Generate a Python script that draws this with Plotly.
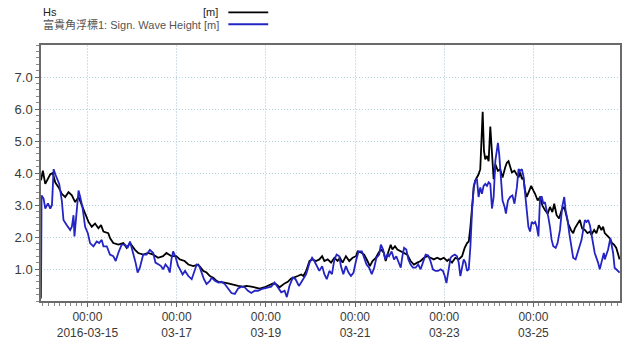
import pandas as pd
import plotly.graph_objects as go

# Time axis reference: hours are counted from this instant
T0 = pd.Timestamp("2016-03-14 00:00")
X_START_H = -1.0
X_END_H = 310.6

# Hs [m] (model)
hs_hours = [
    -1.0, 0.0, 1.3, 4.0, 5.3, 6.7, 8.5, 10.2, 12.0, 13.8, 15.6, 17.4, 19.2, 20.9, 22.8,
    24.5, 26.3, 28.1, 29.9, 31.3, 32.6, 35.2, 36.2, 37.9, 40.6, 43.3, 45.1, 46.9, 49.6,
    51.3, 54.0, 56.7, 59.4, 62.0, 64.7, 66.5, 69.2, 71.8, 73.7, 76.3,
    78.3, 80.9, 83.6, 86.3, 88.1, 89.9, 91.7, 93.5, 95.2, 97.0, 99.7, 102.4, 105.1,
    107.7, 109.5, 112.2, 114.0, 116.7, 119.4, 121.1, 123.8, 125.6, 127.4, 130.1, 131.8,
    133.6, 135.4, 137.2, 139.0, 140.2, 141.7, 143.5, 145.2, 147.0,
    148.8, 150.3, 151.5, 153.3, 155.1, 156.9, 158.6, 159.9, 161.3, 163.1, 164.9, 166.7,
    168.5, 169.4, 171.1, 172.9, 174.7, 176.0, 177.4, 179.2, 180.6, 181.9, 183.6, 184.5,
    186.0, 187.2, 188.1, 189.5, 190.8, 192.6, 194.4, 196.1, 197.9, 199.7, 201.5, 203.3,
    205.1, 206.9, 208.6, 210.4, 212.2, 214.0, 215.8, 217.6, 218.5, 220.2, 222.0,
    223.8, 225.6, 227.0, 228.3, 229.2, 230.1, 231.0, 231.9, 232.7, 233.6, 234.5, 235.4,
    236.0, 236.7, 237.4, 238.1, 239.0, 239.9, 240.8, 241.7, 242.6, 243.5, 244.9, 246.1,
    247.4, 248.8, 249.7, 250.6, 251.5, 252.4, 253.8, 255.1, 256.0, 256.9, 257.8, 258.6,
    259.5, 260.4, 261.7, 262.8, 264.0, 264.9, 266.3, 267.6, 268.8, 270.2, 271.7, 272.9,
    274.2, 275.2, 276.5, 277.8, 279.2, 280.6, 281.9, 282.7, 284.2, 285.4, 286.3, 287.7,
    289.0, 290.2, 291.7, 293.1, 294.4, 295.2, 296.7, 297.9, 299.2, 300.6, 301.5, 302.4,
    303.8, 305.1, 306.3, 307.4, 308.6, 309.5, 310.4,
]
hs_values = [
    3.77, 4.07, 3.66, 3.96, 4.00, 3.70, 3.55, 3.35, 3.25, 3.40, 3.30, 3.09, 3.25, 3.00, 2.68,
    2.48, 2.32, 2.42, 2.27, 2.37, 2.17, 2.12, 1.96, 1.81, 1.76, 1.81, 1.66, 1.81, 1.60,
    1.50, 1.45, 1.50, 1.45, 1.35, 1.40, 1.50, 1.40, 1.40, 1.30, 1.25,
    1.14, 1.09, 1.14, 0.94, 0.89, 0.78, 0.73, 0.63, 0.58, 0.58, 0.55, 0.50, 0.47,
    0.45, 0.47, 0.45, 0.43, 0.39, 0.43, 0.47, 0.55, 0.52, 0.43, 0.55, 0.60,
    0.70, 0.73, 0.78, 0.83, 0.78, 0.94, 1.25, 1.30, 1.25,
    1.30, 1.40, 1.25, 1.30, 1.20, 1.35, 1.25, 1.35, 1.20, 1.40, 1.25, 1.35,
    1.40, 1.55, 1.52, 1.45, 1.25, 1.09, 1.25, 1.35, 1.50, 1.61, 1.50, 1.25,
    1.55, 1.76, 1.61, 1.71, 1.61, 1.55, 1.50, 1.45, 1.25, 1.14, 1.20, 1.25,
    1.35, 1.40, 1.35, 1.30, 1.35, 1.30, 1.35, 1.25, 1.30, 1.20, 1.35,
    1.30, 1.40, 1.66, 1.81, 1.86, 2.32, 3.04, 3.55, 3.76, 3.86, 3.96, 4.12,
    4.78, 5.91, 4.68, 4.43, 4.53, 4.37, 5.45, 4.53, 3.81, 4.27, 4.07, 4.12,
    3.86, 4.17, 4.32, 4.37, 4.17, 4.02, 4.07, 3.96, 3.86, 4.02, 3.81, 3.86,
    3.45, 3.25, 3.45, 3.60, 3.45, 3.35, 3.14, 3.25, 2.99, 2.84, 2.73, 2.94,
    2.78, 3.04, 2.68, 2.58, 2.84, 2.94, 2.63, 2.42, 2.22, 2.12, 2.27, 2.42,
    2.53, 2.27, 2.22, 2.12, 2.17, 2.07, 2.22, 2.12, 2.37, 2.22, 2.32, 2.12,
    2.02, 1.96, 1.81, 1.76, 1.66, 1.50, 1.30,
]

# 富貴角浮標1: Sign. Wave Height [m] (buoy observation)
buoy_hours = [
    -1.0, -0.7, 0.4, 1.3, 2.75, 4.0, 4.9, 5.8, 6.7, 7.6, 8.8, 10.2, 11.1, 12.9, 14.7,
    15.6, 16.5, 17.0, 18.3, 19.2, 20.1, 21.3, 22.75, 24.2, 25.4, 27.2, 29.0, 30.25, 31.7,
    32.6, 34.4, 36.1, 37.9, 39.2, 40.6, 42.4, 44.2, 45.6, 46.9, 48.6, 49.9, 51.0, 52.2,
    54.0, 55.8, 57.6, 59.4, 60.6, 62.0, 63.5, 64.7, 66.0, 67.4, 68.3, 69.2, 70.1, 71.3,
    72.75,
    73.8, 75.2, 76.5, 78.3, 80.1, 81.9, 82.8, 84.2, 85.4, 86.7, 88.1, 89.9, 90.8, 92.6,
    94.4, 96.1, 97.9, 99.7, 101.5, 103.3, 105.1, 106.9, 108.6, 110.4, 112.2, 114.0,
    115.8, 117.6, 119.4, 121.1, 122.9, 124.7, 126.5, 128.3, 130.1, 131.3, 132.7, 134.5,
    136.0, 137.8, 139.0, 140.2, 141.7, 143.5, 144.9, 146.1, 147.4,
    148.8, 150.3, 151.5, 152.8, 154.2, 155.6, 156.9, 158.1, 159.5, 160.4, 161.7, 163.1,
    164.5, 165.8, 167.2, 168.5, 169.9, 171.7, 172.9, 174.2, 175.6, 177.0, 178.3, 179.5,
    181.0, 181.9, 183.1, 184.2, 185.4, 186.3, 187.7, 189.0, 190.2, 191.7, 192.6, 193.5,
    194.4, 195.6, 196.7, 197.9, 199.2, 200.6, 202.0, 203.3, 204.5, 206.0, 207.4, 208.6,
    209.9, 211.3, 212.7, 214.0, 215.3, 216.3, 217.2, 218.5, 219.4, 220.2, 221.7, 222.9,
    223.8, 224.7, 225.6, 226.5, 227.4, 228.3, 229.2, 230.1, 231.0, 231.9, 232.7, 233.6,
    234.5, 235.4, 236.3, 237.2, 238.1, 239.0, 239.9, 240.8, 241.7, 242.6, 243.5, 244.4,
    244.9, 245.6, 246.7, 247.4, 248.5, 249.2, 250.3, 251.5, 252.7, 253.8, 255.1, 256.0,
    256.9, 257.8, 258.6, 259.5, 260.4, 261.3, 262.2, 263.1, 264.0, 264.9, 265.8, 266.7,
    267.6, 268.5, 269.4, 270.2, 271.1, 272.0, 272.9, 273.8, 274.7, 276.0, 277.0, 278.3,
    279.5, 280.6, 281.3, 282.4, 283.3, 284.5, 285.4, 286.7, 287.7, 289.0, 289.9, 290.8,
    291.7, 292.6, 293.5, 294.4, 295.2, 297.0, 298.8, 299.7, 300.6, 301.9, 302.4, 304.2,
    305.4, 306.9, 307.7, 309.2, 310.4,
]
buoy_values = [
    0.08, 3.30, 3.20, 2.89, 3.05, 2.89, 3.00, 4.12, 3.96, 3.80, 3.66, 3.14, 2.53, 2.37, 2.22,
    2.32, 2.68, 2.02, 3.04, 3.45, 3.25, 2.94, 2.32, 2.12, 1.81, 1.71, 1.86, 1.81, 1.91,
    1.71, 1.71, 1.45, 1.40, 1.25, 1.50, 1.76, 1.76, 1.66, 1.86, 1.50, 1.20, 0.89, 1.04,
    1.45, 1.45, 1.60, 1.50, 1.20, 1.14, 1.10, 0.99, 1.14, 1.04, 0.89, 1.30, 1.55, 1.40,
    1.10,
    0.99, 0.83, 0.94, 0.78, 0.68, 1.04, 1.14, 1.09, 0.89, 0.68, 0.53, 0.63, 0.73, 0.63,
    0.58, 0.60, 0.53, 0.37, 0.25, 0.22, 0.39, 0.45, 0.43, 0.32, 0.25, 0.32,
    0.32, 0.37, 0.39, 0.43, 0.45, 0.58, 0.43, 0.27, 0.32, 0.12, 0.47, 0.73,
    0.68, 0.47, 0.58, 0.68, 0.84, 1.19, 1.35, 1.25, 1.09,
    0.94, 1.09, 0.84, 0.68, 0.94, 0.84, 1.30, 1.45, 1.40, 1.09, 0.84, 1.09,
    0.89, 0.78, 0.89, 1.25, 1.55, 1.55, 1.35, 1.14, 1.04, 0.84, 1.04, 1.35,
    1.45, 1.76, 1.61, 1.30, 1.45, 1.40, 1.55, 1.30, 1.40, 1.20, 1.04, 1.40,
    1.66, 1.61, 1.30, 1.14, 1.04, 1.04, 1.14, 0.99, 1.20, 1.45, 1.42, 1.25,
    0.99, 0.94, 0.94, 0.99, 0.94, 0.78, 0.56, 1.04, 1.35, 1.40, 1.45, 1.40,
    1.20, 0.78, 1.09, 1.30, 1.20, 0.94, 0.99, 1.71, 2.84, 3.60, 3.76, 3.81,
    3.25, 3.55, 3.35, 3.60, 3.66, 3.60, 3.71, 3.66, 2.89, 3.25, 4.37, 4.78,
    4.94, 4.58, 3.76, 3.14, 2.94, 2.73, 3.14, 3.25, 3.30, 3.04, 3.55, 4.12,
    4.07, 4.12, 3.91, 3.35, 2.84, 2.32, 2.17, 2.47, 2.42, 2.47, 2.32, 2.02,
    3.25, 3.25, 3.04, 3.09, 2.84, 2.63, 2.32, 1.91, 1.71, 1.66, 1.81, 2.22,
    2.94, 3.25, 2.84, 2.53, 2.12, 1.61, 1.35, 1.30, 1.50, 1.81, 1.91, 2.22,
    2.53, 2.47, 2.53, 2.37, 2.12, 1.50, 1.20, 0.99, 1.20, 1.50, 1.30, 1.61,
    1.96, 1.50, 1.04, 0.94, 0.89,
]

# Axis ticks
x_tick_dates = ["2016-03-15", "2016-03-17", "2016-03-19", "2016-03-21", "2016-03-23", "2016-03-25"]
x_tick_text = ["00:00<br>2016-03-15", "00:00<br>03-17", "00:00<br>03-19",
               "00:00<br>03-21", "00:00<br>03-23", "00:00<br>03-25"]
y_tick_vals = [1, 2, 3, 4, 5, 6, 7]
y_tick_text = ["1.0", "2.0", "3.0", "4.0", "5.0", "6.0", "7.0"]

legend_names = ["Hs", "富貴角浮標1: Sign. Wave Height [m]"]
legend_units = ["[m]", ""]
series_colors = ["#000000", "#2424c4"]

W, H = 627, 345
ML, MR, MT, MB = 41, 5, 45, 41
PLOT_W = W - ML - MR
PLOT_H = H - MT - MB


def to_time(hours):
    return T0 + pd.to_timedelta(pd.Series(hours, dtype=float), unit="h")


def px_to_paper(xp, yp):
    return (xp - ML) / PLOT_W, (H - MB - yp) / PLOT_H


fig = go.Figure()
fig.add_trace(go.Scatter(x=to_time(hs_hours), y=hs_values, mode="lines",
                         line=dict(color=series_colors[0], width=1.8), name=legend_names[0]))
fig.add_trace(go.Scatter(x=to_time(buoy_hours), y=buoy_values, mode="lines",
                         line=dict(color=series_colors[1], width=1.8), name=legend_names[1]))

FONT = "Liberation Sans, Arial, Noto Sans CJK TC, sans-serif"

fig.update_layout(
    width=W, height=H,
    margin=dict(l=ML, r=MR, t=MT, b=MB),
    paper_bgcolor="white", plot_bgcolor="white",
    showlegend=False,
    font=dict(family=FONT, size=12, color="#333333"),
)

fig.update_xaxes(
    range=[T0 + pd.Timedelta(hours=X_START_H), T0 + pd.Timedelta(hours=X_END_H)],
    tickmode="array",
    tickvals=pd.to_datetime(x_tick_dates),
    ticktext=x_tick_text,
    ticks="outside", ticklen=4, tickcolor="#666666",
    showgrid=True, gridcolor="#d6e0e8", gridwidth=1, griddash="2px,1px",
    showline=True, linecolor="#6a6a6a", linewidth=1.5, mirror=True,
    minor=dict(ticks="outside", ticklen=3, tickcolor="#888888",
               dtick=3 * 3600 * 1000, tick0="2016-03-14", showgrid=False),
    tickfont=dict(size=12, color="#3a3a3a"),
    zeroline=False,
)
fig.update_yaxes(
    range=[0, 8],
    tickmode="array", tickvals=y_tick_vals, ticktext=y_tick_text,
    ticks="outside", ticklen=4, tickcolor="#666666",
    showgrid=True, gridcolor="#b4d2e0", gridwidth=1, griddash="1px,2px",
    showline=True, linecolor="#6a6a6a", linewidth=1.5, mirror=True,
    minor=dict(ticks="outside", ticklen=3, tickcolor="#888888", dtick=0.2, tick0=0,
               showgrid=False),
    tickfont=dict(size=13, color="#3a3a3a"),
    zeroline=False,
)

# Legend block above the plot: name on the left, unit right-aligned, line sample after the text
legend_rows_y = [12, 24]
for i, (name, unit) in enumerate(zip(legend_names, legend_units)):
    x0, yp = px_to_paper(41, legend_rows_y[i])
    fig.add_annotation(xref="paper", yref="paper", x=x0, y=yp,
                       xanchor="left", yanchor="middle", showarrow=False,
                       text=name, font=dict(size=11, color="#222222" if i == 0 else "#555555"))
    if unit:
        xu, _ = px_to_paper(221, legend_rows_y[i])
        fig.add_annotation(xref="paper", yref="paper", x=xu, y=yp,
                           xanchor="right", yanchor="middle", showarrow=False,
                           text=unit, font=dict(size=11, color="#222222"))
    xa, _ = px_to_paper(229, legend_rows_y[i])
    xb, _ = px_to_paper(269, legend_rows_y[i])
    fig.add_shape(type="line", xref="paper", yref="paper",
                  x0=xa, x1=xb, y0=yp, y1=yp,
                  line=dict(color=series_colors[i], width=1.8))

fig.write_html("out.html")
